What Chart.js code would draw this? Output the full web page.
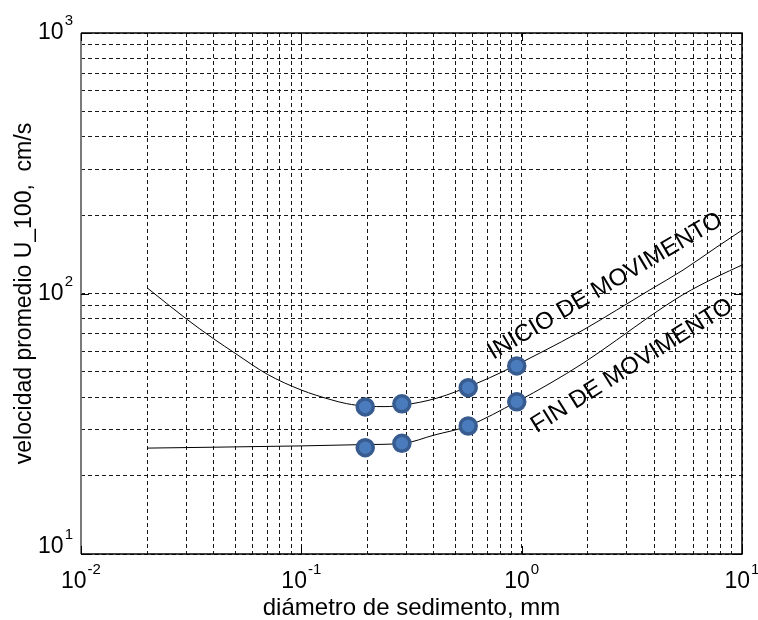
<!DOCTYPE html>
<html>
<head>
<meta charset="utf-8">
<script src="https://cdn.jsdelivr.net/npm/chart.js@4.4.1/dist/chart.umd.min.js"></script>
<style>
  html, body { margin: 0; padding: 0; background: #fff; }
  #wrap { width: 758px; height: 620px; }
</style>
</head>
<body>
<div id="wrap"><canvas id="chart"></canvas></div>
<script>
// curve "inicio de movimiento" (diameter mm, velocity cm/s)
const inicioX = [0.02, 0.03, 0.04, 0.05, 0.07, 0.1, 0.135, 0.16, 0.2, 0.24, 0.29, 0.41, 0.625, 0.82, 1.21, 1.9, 2.7, 3.8, 5.4, 7.7, 10];
const inicioY = [105, 80, 67, 59, 49, 42.6, 39.2, 37.8, 36.9, 36.8, 37.3, 39.6, 45.2, 50.1, 59.1, 72.4, 86.4, 103, 123, 151, 175];

// curve "fin de movimiento"
const finX = [0.02, 0.04, 0.1, 0.19, 0.29, 0.4, 0.57, 0.95, 1.345, 1.9, 2.7, 3.8, 5.4, 7.7, 10];
const finY = [25.5, 25.7, 26.0, 26.3, 26.6, 28.6, 31.0, 38.4, 45.2, 54.0, 66.3, 81.5, 99, 116, 128.6];

// measured points
const sampleD = [0.195, 0.286, 0.572, 0.95];
const sampleInicio = [36.7, 37.7, 43.5, 52.7];
const sampleFin = [25.6, 26.6, 31.0, 38.4];

// axes
const xMajorExp = [-2, -1, 0, 1];
const yMajorExp = [1, 2, 3];
const minorSteps = [2, 3, 4, 5, 6, 7, 8, 9];

const curveLabels = ['INICIO DE MOVIMENTO', 'FIN DE MOVIMENTO'];
const labelAt = [[0.744, 55.6], [1.171, 29.1]];
const labelAngle = [-30.5, -32];

const FONT = '"Liberation Sans", Arial, sans-serif';

function logTicks(exps) {
  const out = [];
  exps.forEach((e, i) => {
    out.push(Math.pow(10, e));
    if (i < exps.length - 1) minorSteps.forEach(m => out.push(m * Math.pow(10, e)));
  });
  return out;
}

const pts = (xs, ys) => xs.map((v, i) => ({x: v, y: ys[i]}));

function drawPow(ctx, exp, left, cy) {
  ctx.font = '23px ' + FONT;
  const w1 = ctx.measureText('10').width;
  ctx.fillText('10', left, cy);
  ctx.font = '15px ' + FONT;
  ctx.fillText(String(exp), left + w1 + 1, cy - 12);
}

function powWidth(ctx, exp) {
  ctx.font = '23px ' + FONT;
  const w1 = ctx.measureText('10').width;
  ctx.font = '15px ' + FONT;
  return w1 + 1 + ctx.measureText(String(exp)).width;
}

const decor = {
  id: 'decor',
  afterDraw(chart) {
    const {ctx, chartArea: a, scales: {x, y}} = chart;
    ctx.save();

    // curve labels
    ctx.fillStyle = '#000';
    ctx.font = '24px ' + FONT;
    ctx.textBaseline = 'alphabetic';
    ctx.textAlign = 'left';
    curveLabels.forEach((t, i) => {
      ctx.save();
      ctx.translate(x.getPixelForValue(labelAt[i][0]), y.getPixelForValue(labelAt[i][1]));
      ctx.rotate(labelAngle[i] * Math.PI / 180);
      ctx.fillText(t, 0, 0);
      ctx.restore();
    });

    // frame
    ctx.strokeStyle = '#000';
    ctx.lineWidth = 1.5;
    ctx.beginPath();
    ctx.moveTo(a.left, a.top);
    ctx.lineTo(a.right, a.top);
    ctx.lineTo(a.right, a.bottom);
    ctx.lineTo(a.left, a.bottom);
    ctx.stroke();
    ctx.strokeStyle = '#7a7a7a';
    ctx.lineWidth = 2;
    ctx.beginPath();
    ctx.moveTo(a.left, a.top);
    ctx.lineTo(a.left, a.bottom);
    ctx.stroke();

    // inward major ticks
    ctx.strokeStyle = '#000';
    ctx.lineWidth = 1;
    ctx.beginPath();
    xMajorExp.forEach(e => {
      const px = Math.round(x.getPixelForValue(Math.pow(10, e))) + 0.5;
      ctx.moveTo(px, a.bottom); ctx.lineTo(px, a.bottom - 8);
      ctx.moveTo(px, a.top); ctx.lineTo(px, a.top + 8);
    });
    yMajorExp.forEach(e => {
      const py = Math.round(y.getPixelForValue(Math.pow(10, e))) + 0.5;
      ctx.moveTo(a.left, py); ctx.lineTo(a.left + 8, py);
      ctx.moveTo(a.right, py); ctx.lineTo(a.right - 8, py);
    });
    ctx.stroke();

    // tick labels 10^n
    ctx.fillStyle = '#000';
    ctx.textBaseline = 'middle';
    ctx.textAlign = 'left';
    xMajorExp.forEach(e => {
      const px = x.getPixelForValue(Math.pow(10, e));
      const w = powWidth(ctx, e);
      drawPow(ctx, e, px - w / 2, a.bottom + 28);
    });
    yMajorExp.forEach(e => {
      const py = Math.min(y.getPixelForValue(Math.pow(10, e)), a.bottom - 7);
      const w = powWidth(ctx, e);
      drawPow(ctx, e, a.left - 8 - w, py);
    });
    ctx.restore();
  }
};

const gridOpts = {
  display: true,
  color: 'rgba(0,0,0,0.9)',
  lineWidth: 1,
  drawTicks: false
};

new Chart(document.getElementById('chart'), {
  type: 'scatter',
  data: {
    datasets: [
      {
        data: pts(sampleD, sampleInicio),
        pointRadius: 8,
        pointBackgroundColor: '#4a7cbd',
        pointBorderColor: '#385c8f',
        pointBorderWidth: 3.5,
        showLine: false
      },
      {
        data: pts(sampleD, sampleFin),
        pointRadius: 8,
        pointBackgroundColor: '#4a7cbd',
        pointBorderColor: '#385c8f',
        pointBorderWidth: 3.5,
        showLine: false
      },
      {
        data: pts(inicioX, inicioY),
        showLine: true,
        borderColor: '#000',
        borderWidth: 1,
        pointRadius: 0,
        cubicInterpolationMode: 'monotone'
      },
      {
        data: pts(finX, finY),
        showLine: true,
        borderColor: '#000',
        borderWidth: 1,
        pointRadius: 0,
        cubicInterpolationMode: 'monotone'
      }
    ]
  },
  options: {
    responsive: true,
    maintainAspectRatio: false,
    animation: false,
    layout: { padding: { top: 33, right: 16, left: 0, bottom: 0 } },
    plugins: {
      legend: { display: false },
      tooltip: { enabled: false }
    },
    scales: {
      x: {
        type: 'logarithmic',
        min: 0.01,
        max: 10,
        afterBuildTicks: s => { s.ticks = logTicks(xMajorExp).map(v => ({value: v})); },
        ticks: { display: false },
        grid: gridOpts,
        border: { display: false, dash: [4, 3] },
        title: {
          display: true,
          text: 'diámetro de sedimento, mm',
          color: '#000',
          font: { family: FONT, size: 24, lineHeight: 1 },
          padding: { top: 42, bottom: 0 }
        }
      },
      y: {
        type: 'logarithmic',
        min: 10,
        max: 1000,
        afterBuildTicks: s => { s.ticks = logTicks(yMajorExp).map(v => ({value: v})); },
        ticks: { display: false },
        grid: gridOpts,
        border: { display: false, dash: [4, 3] },
        title: {
          display: true,
          text: 'velocidad promedio U_100,  cm/s',
          color: '#000',
          font: { family: FONT, size: 23, lineHeight: 1.2 },
          padding: { top: 11, bottom: 42.4 }
        }
      }
    }
  },
  plugins: [decor]
});
</script>
</body>
</html>
